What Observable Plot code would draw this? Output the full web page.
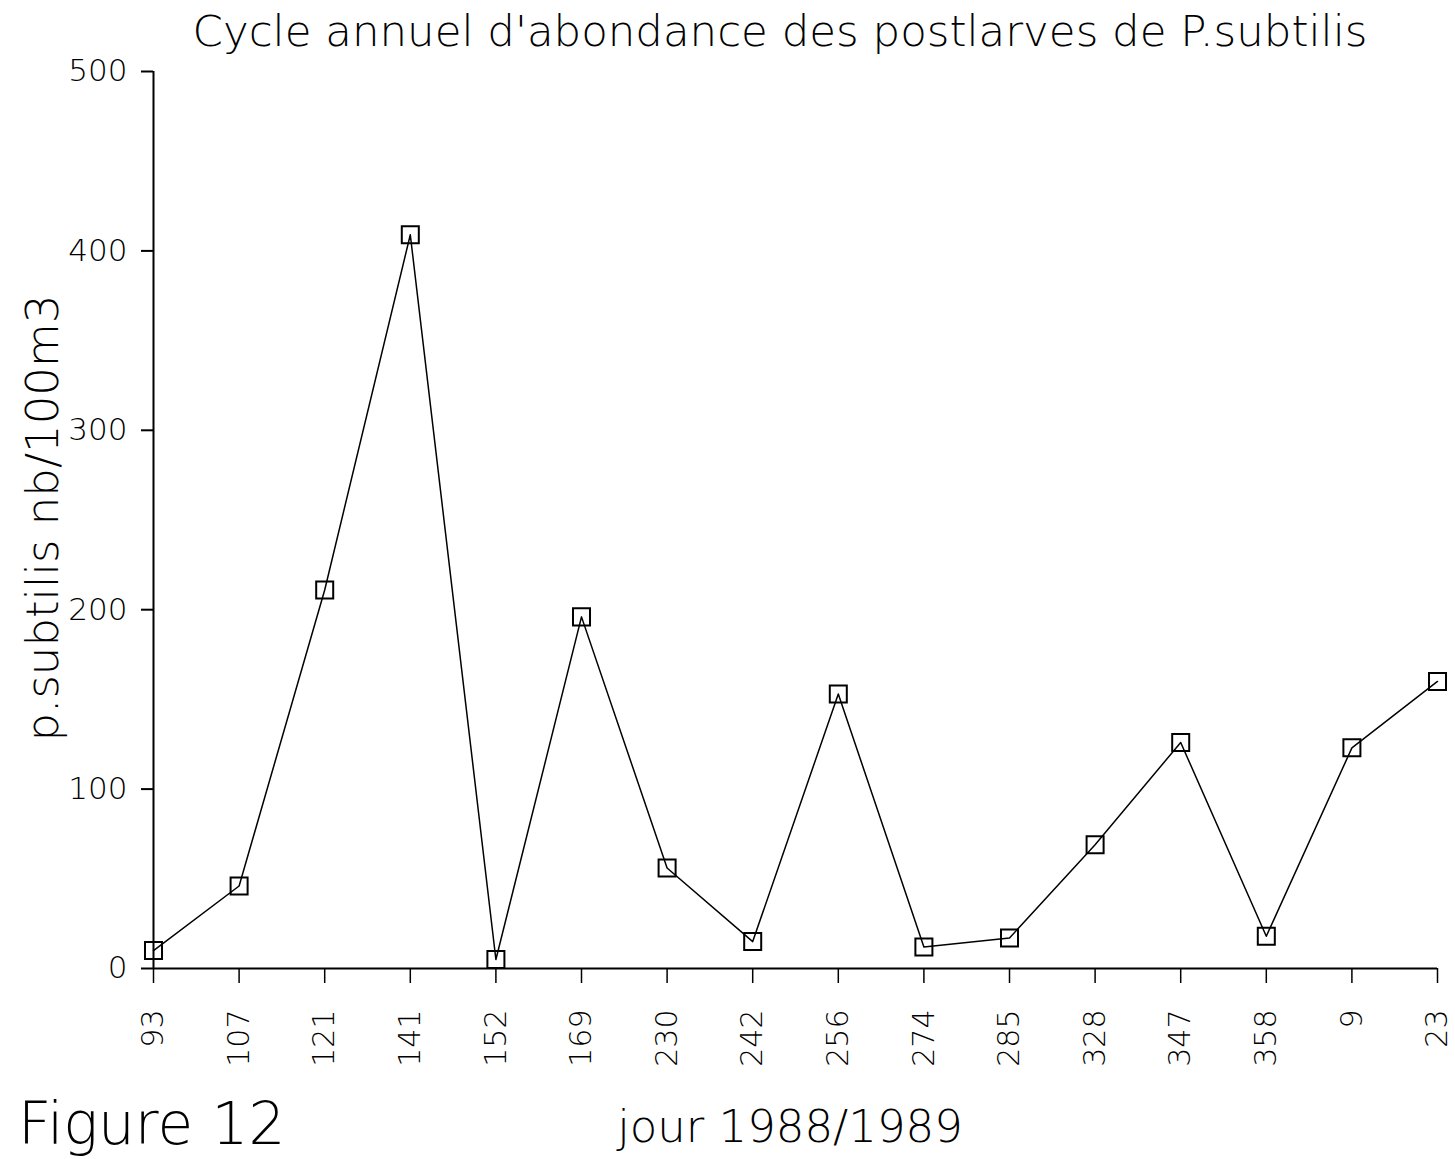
<!DOCTYPE html>
<html>
<head>
<meta charset="utf-8">
<script src="https://cdn.jsdelivr.net/npm/d3@7"></script>
<script src="https://cdn.jsdelivr.net/npm/@observablehq/plot@0.6"></script>
<style>
  html, body { margin: 0; padding: 0; background: #fff; overflow: hidden; }
  #wrap { position: relative; width: 1455px; height: 1159px; overflow: hidden; }
  svg { font-family: "DejaVu Sans", sans-serif; font-weight: 200; }
</style>
</head>
<body>
<div id="wrap"></div>
<script>
const days = ["93","107","121","141","152","169","230","242","256","274","285","328","347","358","9","23"];
const abundance = [10,46,211,409,5,196,56,15,153,12,17,69,126,18,123,160];
const yTicks = [0,100,200,300,400,500];
const titleText = "Cycle annuel d'abondance des postlarves de P.subtilis";
const xLabel = "jour 1988/1989";
const yLabel = "p.subtilis nb/100m3";
const figLabel = "Figure 12";

const data = days.map((d, i) => ({day: d, value: abundance[i]}));

const chart = Plot.plot({
  width: 1455,
  height: 1159,
  marginLeft: 153,
  marginRight: 18,
  marginTop: 71,
  marginBottom: 191,
  style: {fontFamily: "DejaVu Sans, sans-serif", fontSize: "30px", color: "#000", background: "#fff"},
  x: {type: "point", domain: days, padding: 0, round: false},
  y: {domain: [0, 500]},
  marks: [
    Plot.ruleY([0], {stroke: "#000", strokeWidth: 2}),
    Plot.ruleX([days[0]], {y1: 0, y2: 500, stroke: "#000", strokeWidth: 2}),
    Plot.axisY({ticks: yTicks, tickSize: 12, tickPadding: 14, label: null, fontSize: 31, strokeWidth: 2}),
    Plot.axisX({tickSize: 15, tickPadding: 26, tickRotate: -90, label: null, fontSize: 30, strokeWidth: 1.5}),
    Plot.line(data, {x: "day", y: "value", stroke: "#000", strokeWidth: 1.5}),
    Plot.dot(data, {x: "day", y: "value", symbol: "square", r: 9.6, stroke: "#000", strokeWidth: 2, fill: "none"})
  ]
});

const svg = d3.select(chart);
svg.selectAll("text").attr("font-weight", 200);
svg.append("text").attr("x", 780).attr("y", 46).attr("text-anchor", "middle")
  .attr("font-size", 43.5).attr("font-weight", 200).text(titleText);
svg.append("text").attr("transform", "translate(58,518) rotate(-90)").attr("text-anchor", "middle")
  .attr("font-size", 45).attr("font-weight", 200).text(yLabel);
svg.append("text").attr("x", 790).attr("y", 1142).attr("text-anchor", "middle")
  .attr("font-size", 45).attr("font-weight", 200).text(xLabel);
svg.append("text").attr("x", 18).attr("y", 1144).attr("text-anchor", "start")
  .attr("font-size", 58).attr("font-weight", 200).text(figLabel);

document.getElementById("wrap").appendChild(chart);
</script>
</body>
</html>
